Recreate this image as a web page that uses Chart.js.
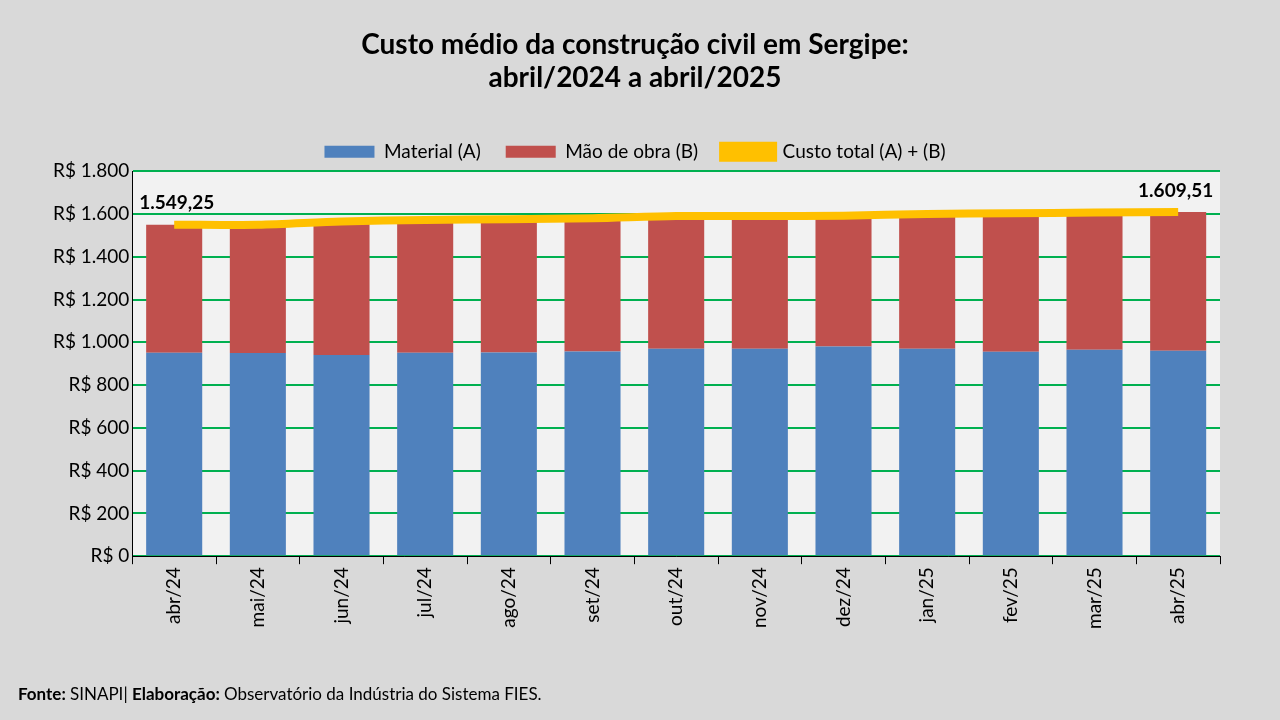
<!DOCTYPE html>
<html><head><meta charset="utf-8">
<script src="https://cdn.jsdelivr.net/npm/chart.js@4"></script>
<style>html,body{margin:0;padding:0;background:#d9d9d9;}#w{width:1280px;height:720px;}</style>
</head><body><div id="w"><canvas id="c" width="1280" height="720"></canvas></div>
<script>
const categories=["abr/24","mai/24","jun/24","jul/24","ago/24","set/24","out/24","nov/24","dez/24","jan/25","fev/25","mar/25","abr/25"];
const total=[1549.25,1550,1565,1572,1575,1580,1590,1590,1592,1600,1603,1607,1609.51];
const material=[951,950,941,951,952,957,970,970,980,970,956,965,960];
const maoDeObra=total.map((t,i)=>+(t-material[i]).toFixed(2));
const yTicks={min:0,max:1800,step:200};
const F='Lato, "Open Sans", sans-serif';
const fmt=v=>v.toLocaleString('pt-BR',{minimumFractionDigits:2,maximumFractionDigits:2});
const deco={id:'deco',
 beforeDraw(ch){const {ctx,chartArea:a}=ch;ctx.save();ctx.fillStyle='#f2f2f2';ctx.fillRect(a.left,a.top,a.right-a.left,a.bottom-a.top);ctx.restore();},
 afterDraw(ch){const ctx=ch.ctx;const m=ch.getDatasetMeta(2).data;ctx.save();ctx.font='bold 19px '+F;ctx.fillStyle='#000';ctx.textBaseline='bottom';
  ctx.textAlign='left';ctx.fillText(fmt(total[0]),m[0].x-35,m[0].y-12);
  ctx.textAlign='right';const l=m.length-1;ctx.fillText(fmt(total[l]),m[l].x+35,m[l].y-12);
  ctx.textAlign='left';ctx.textBaseline='alphabetic';let x=18,y=700;
  const parts=[['bold','Fonte: '],['','SINAPI| '],['bold','Elaboração: '],['','Observatório da Indústria do Sistema FIES.']];
  for(const [w,t] of parts){ctx.font=(w?'bold ':'')+'17px '+F;ctx.fillText(t,x,y);x+=ctx.measureText(t).width;}
  ctx.restore();}};
new Chart(document.getElementById('c'),{
 data:{labels:categories,datasets:[
  {type:'bar',label:'Material (A)',data:material,backgroundColor:'#4f81bd',stack:'s',order:2,categoryPercentage:1,barPercentage:0.67},
  {type:'bar',label:'Mão de obra (B)',data:maoDeObra,backgroundColor:'#c0504d',stack:'s',order:2,categoryPercentage:1,barPercentage:0.67},
  {type:'line',label:'Custo total (A) + (B)',data:total,borderColor:'#ffc000',backgroundColor:'#ffc000',borderWidth:8,pointRadius:0,tension:0.3,order:1}
 ]},
 options:{responsive:false,animation:false,
  layout:{padding:{left:50,right:60,top:28,bottom:88}},
  plugins:{
   title:{display:true,text:['Custo médio da construção civil em Sergipe:','abril/2024 a abril/2025'],font:{family:F,size:28,weight:'bold'},color:'#000',padding:{bottom:22},lineHeight:1.3},
   legend:{labels:{font:{family:F,size:19},color:'#000',boxWidth:50,boxHeight:12,padding:25,sort:(a,b)=>a.datasetIndex-b.datasetIndex},padding:20},
   tooltip:{enabled:false}},
  scales:{
   x:{stacked:true,offset:true,grid:{display:true,drawOnChartArea:false,color:'#000',tickLength:8,offset:true},border:{color:'#000'},
      ticks:{font:{family:F,size:19},color:'#000',maxRotation:90,minRotation:90}},
   y:{stacked:true,min:yTicks.min,max:yTicks.max,ticks:{stepSize:yTicks.step,font:{family:F,size:19},color:'#000',callback:v=>'R$ '+v.toLocaleString('pt-BR')},
      grid:{color:'#00b050',lineWidth:2,drawTicks:false},border:{color:'#000'}}
  }},
 plugins:[deco]});
</script></body></html>
